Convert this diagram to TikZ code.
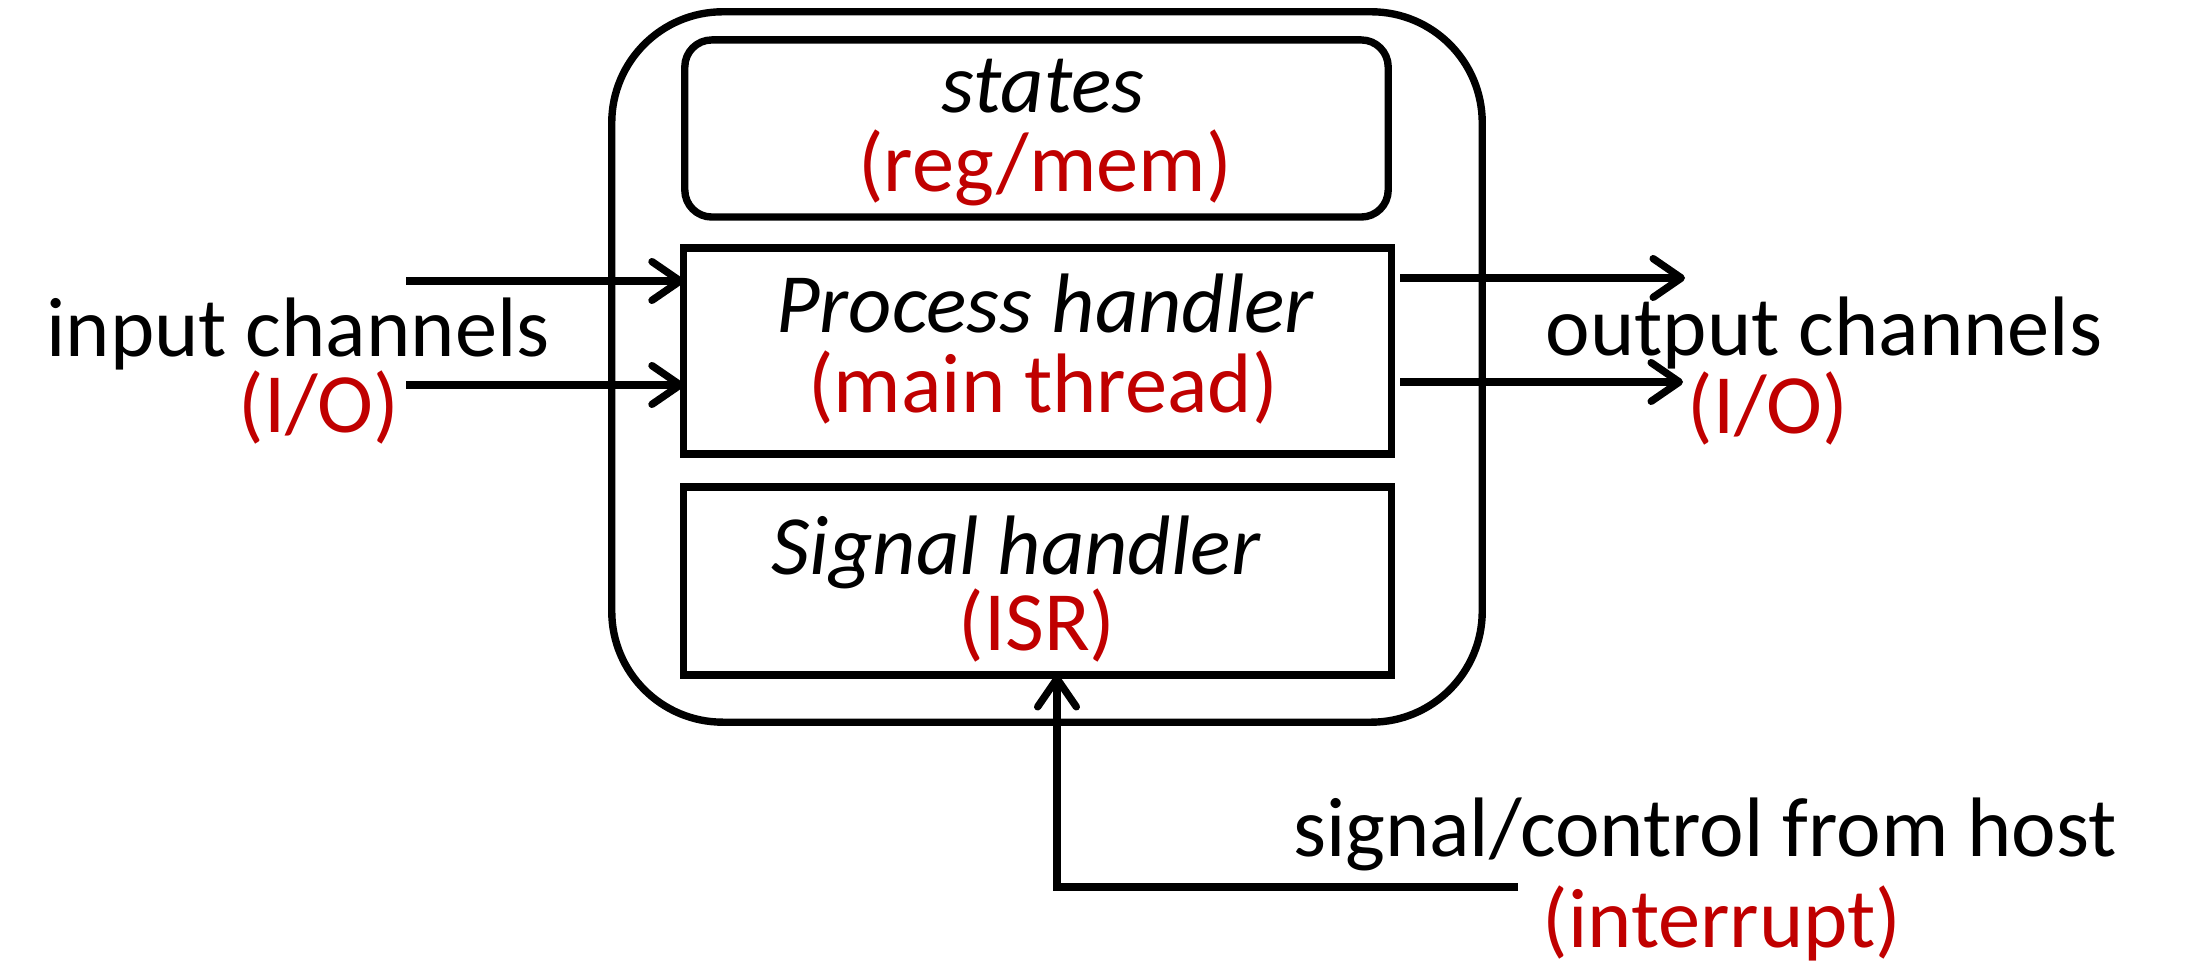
\documentclass[tikz,border=0pt]{standalone}
\usepackage{fontspec}
\setmainfont{Carlito}
\usetikzlibrary{arrows.meta}
\definecolor{labelred}{RGB}{192,0,0}
\tikzset{
  box/.style={draw, line width=2.1pt, rectangle, outer sep=0pt, inner sep=0pt},
  txt/.style={inner sep=0pt, anchor=base, font=\fontsize{24}{28}\selectfont},
  boxtitle/.style={txt, font=\fontsize{24}{28}\selectfont\itshape},
  note/.style={txt, text=labelred},
  flow/.style={line width=2.1pt, -{Straight Barb[length=8pt,width=11pt,line width=2.1pt,round]}},
}
\begin{document}
\begin{tikzpicture}[x=0.01cm, y=-0.01cm]
\useasboundingbox (0,0) rectangle (2190,968);

% enclosing process and its three parts
\node[box, rounded corners=1.11cm, minimum width=8.70cm, minimum height=7.10cm] (outer) at (1047,367) {};
\node[box, rounded corners=0.27cm, minimum width=7.03cm, minimum height=1.77cm] (states) at (1036.5,128.5) {};
\node[box, minimum width=7.07cm, minimum height=2.06cm] (proc) at (1037.5,351) {};
\node[box, minimum width=7.07cm, minimum height=1.88cm] (sig) at (1037.5,581) {};

% box labels
\node[boxtitle] (statesT) at (1043,113) {states};
\node[note] (statesN) at (1045,192) {(reg/mem)};
\node[boxtitle] (procT) at (1045,333) {Process handler};
\node[note] (procN) at (1043,413) {(main thread)};
\node[boxtitle] (sigT) at (1016,575) {Signal handler};
\node[note] (sigN) at (1037,651) {(ISR)};

% channel labels
\node[txt] (inT) at (298,357) {input channels};
\node[note] (inN) at (319,433) {(I/O)};
\node[txt] (outT) at (1824,356) {output channels};
\node[note] (outN) at (1768,434) {(I/O)};
\node[txt] (hostT) at (1705,857) {signal/control from host};
\node[note] (hostN) at (1722,948) {(interrupt)};

% connector end points
\coordinate (inA) at (406,281);
\coordinate (inB) at (406,385);
\coordinate (outAs) at (1400,278);
\coordinate (outAe) at (1685,278);
\coordinate (outBs) at (1400,382);
\coordinate (outBe) at (1683,382);
\coordinate (host) at (1518,887);
\coordinate (sigIn) at (1057,675);

% connectors
\draw[flow] (inA) -- (inA -| proc.west);
\draw[flow] (inB) -- (inB -| proc.west);
\draw[flow] (outAs) -- (outAe);
\draw[flow] (outBs) -- (outBe);
\draw[flow] (host) -| (sigIn);
\end{tikzpicture}
\end{document}
